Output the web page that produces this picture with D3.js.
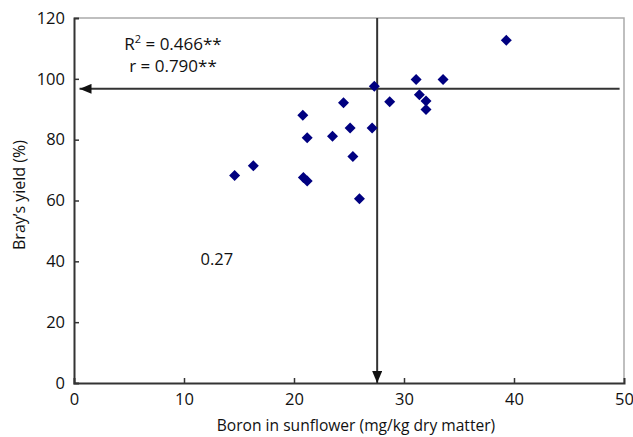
<!DOCTYPE html>
<html>
<head>
<meta charset="utf-8">
<script src="https://cdn.jsdelivr.net/npm/d3@7"></script>
<style>
  body { margin: 0; background: #fff; }
  text { font-family: "Open Sans", sans-serif; fill: #111; }
</style>
</head>
<body>
<div class="chart"></div>
<script>
// boron (mg/kg) vs Bray's yield (%)
const boron = [14.6, 16.3, 20.8, 21.2, 20.85, 21.2, 23.5, 24.5, 25.1, 25.35, 25.95, 27.1, 27.3, 28.7, 31.1, 33.55, 31.4, 32.0, 32.0, 39.3]
const yieldPct = [68.2, 71.4, 88.0, 80.6, 67.6, 66.4, 81.1, 92.1, 83.8, 74.5, 60.6, 83.8, 97.6, 92.5, 99.8, 99.8, 94.8, 92.7, 89.9, 112.7]

const xTicks = [0, 10, 20, 30, 40, 50]
const yTicks = [0, 20, 40, 60, 80, 100, 120]

const criticalB = 27.56   // vertical arrow
const criticalY = 96.7    // horizontal arrow

const width = 633
const height = 437
const margin = { top: 18, right: 9, bottom: 54, left: 74 }

const svg = d3.select(".chart")
    .append("svg")
    .attr("width", width)
    .attr("height", height)

const x = d3.scaleLinear().domain([0, 50]).range([margin.left, width - margin.right])
const y = d3.scaleLinear().domain([0, 120]).range([height - margin.bottom, margin.top])

const defs = svg.append("defs")
defs.append("marker")
    .attr("id", "arrow")
    .attr("viewBox", "0 0 12 10")
    .attr("refX", 12)
    .attr("refY", 5)
    .attr("markerWidth", 12)
    .attr("markerHeight", 10)
    .attr("markerUnits", "userSpaceOnUse")
    .attr("orient", "auto")
    .append("path")
    .attr("d", "M0,0L12,5L0,10Z")
    .attr("fill", "#111")

// top and right frame
svg.append("path")
    .attr("d", `M${x(0)},${y(120)}H${x(50)}V${y(0)}`)
    .attr("fill", "none")
    .attr("stroke", "#aaa")
    .attr("stroke-width", 1.5)

// axes
const xAxis = svg.append("g")
    .attr("transform", `translate(0,${y(0)})`)
    .call(d3.axisBottom(x).tickValues(xTicks).tickSize(-5).tickPadding(10))
const yAxis = svg.append("g")
    .attr("transform", `translate(${x(0)},0)`)
    .call(d3.axisLeft(y).tickValues(yTicks).tickSize(-5).tickPadding(9))

for (const ax of [xAxis, yAxis]) {
    ax.select(".domain").attr("stroke", "#333").attr("stroke-width", 2)
    ax.selectAll(".tick line").attr("stroke", "#333").attr("stroke-width", 1.5)
    ax.selectAll(".tick text").style("font-size", "16.5px").attr("fill", "#111")
}
xAxis.selectAll(".tick line").filter(d => d == 0 || d == 50).remove()
yAxis.selectAll(".tick line").filter(d => d == 0 || d == 120).remove()

// critical value arrows
svg.append("line")
    .attr("x1", x(49.6)).attr("y1", y(criticalY))
    .attr("x2", x(0.5)).attr("y2", y(criticalY))
    .attr("stroke", "#333").attr("stroke-width", 2)
    .attr("marker-end", "url(#arrow)")

svg.append("line")
    .attr("x1", x(criticalB)).attr("y1", y(120))
    .attr("x2", x(criticalB)).attr("y2", y(0))
    .attr("stroke", "#333").attr("stroke-width", 2)
    .attr("marker-end", "url(#arrow)")

// points
svg.append("g")
    .selectAll("path")
    .data(boron.map((b, i) => [b, yieldPct[i]]))
    .join("path")
    .attr("transform", d => `translate(${x(d[0])},${y(d[1])})`)
    .attr("d", "M0,-5.5L5.5,0L0,5.5L-5.5,0Z")
    .attr("fill", "#000080")

// annotations
const ann = svg.append("g").style("font-size", "17px")
const r2 = ann.append("text").attr("x", x(9)).attr("y", y(109.6)).attr("text-anchor", "middle")
r2.append("tspan").text("R")
r2.append("tspan").text("2").attr("dy", -7).style("font-size", "11px")
r2.append("tspan").text(" = 0.466**").attr("dy", 7)
ann.append("text").attr("x", x(9)).attr("y", y(102.4)).attr("text-anchor", "middle").text("r = 0.790**")
ann.append("text").attr("x", x(11.5)).attr("y", y(38.9)).style("font-size", "16.5px").text("0.27")

// axis labels
svg.append("text")
    .attr("x", 356)
    .attr("y", 431)
    .attr("text-anchor", "middle")
    .style("font-size", "15.6px")
    .text("Boron in sunflower (mg/kg dry matter)")

svg.append("text")
    .attr("transform", `translate(25,195) rotate(-90)`)
    .attr("text-anchor", "middle")
    .style("font-size", "16px")
    .text("Bray’s yield (%)")
</script>
</body>
</html>
